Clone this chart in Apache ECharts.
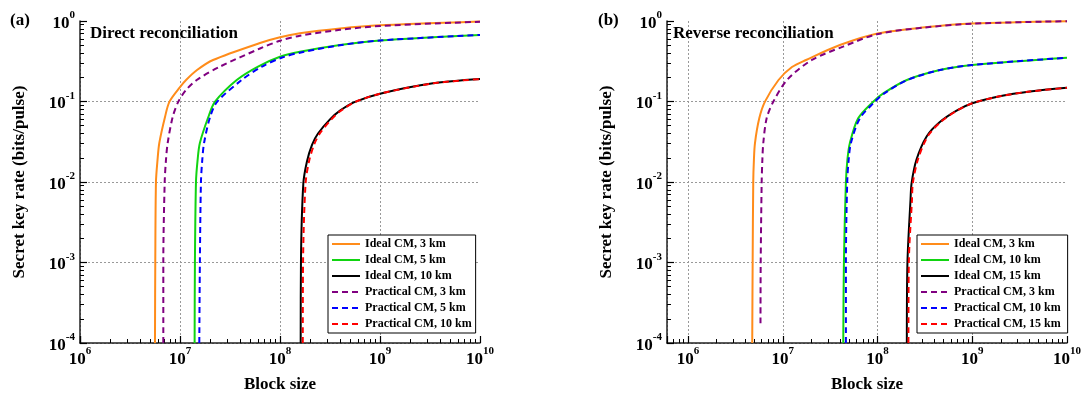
<!DOCTYPE html>
<html>
<head>
<meta charset="utf-8">
<script src="https://cdn.jsdelivr.net/npm/echarts@6/dist/echarts.min.js"></script>
<style>
  html, body { margin: 0; background: #fff; }
  #chart { width: 1085px; height: 399px; }
</style>
</head>
<body>
<div id="chart"></div>
<script>
const SERIF = '"Liberation Serif", "Times New Roman", serif';

// (a) direct reconciliation: [block size, key rate]
const aIdeal3 = [[5.62e6, 1e-4], [5.66e6, 1e-3], [5.75e6, 0.01], [5.96e6, 0.0188], [6.21e6, 0.0305], [7.08e6, 0.0642], [7.85e6, 0.0995], [1.0e7, 0.151], [1.15e7, 0.185], [1.48e7, 0.246], [2.14e7, 0.328], [6.31e7, 0.533], [1e8, 0.628], [1.58e8, 0.703], [3.98e8, 0.807], [1e9, 0.884], [1e10, 0.986]];
const aIdeal5 = [[1.40e7, 1e-4], [1.41e7, 1e-3], [1.445e7, 0.01], [1.50e7, 0.0188], [1.58e7, 0.0305], [1.92e7, 0.0642], [2.24e7, 0.0995], [3.69e7, 0.185], [6.03e7, 0.272], [1e8, 0.36], [1.58e8, 0.415], [3.98e8, 0.503], [1e9, 0.573], [1e10, 0.67]];
const aIdeal10 = [[1.61e8, 1e-4], [1.62e8, 1e-3], [1.71e8, 0.0095], [1.86e8, 0.018], [2.09e8, 0.029], [2.40e8, 0.040], [3.16e8, 0.060], [3.98e8, 0.077], [5.62e8, 0.099], [1e9, 0.125], [3.39e9, 0.168], [1e10, 0.19]];
const aPrac3 = [[6.81e6, 1e-4], [6.81e6, 1e-3], [7.03e6, 0.01], [7.24e6, 0.0188], [7.53e6, 0.0305], [8.45e6, 0.0642], [9.62e6, 0.0995], [1.15e7, 0.139], [1.47e7, 0.185], [2.51e7, 0.271], [6.31e7, 0.455], [1e8, 0.569], [1.58e8, 0.657], [3.98e8, 0.777], [1e9, 0.867], [1e10, 0.98]];
const aPrac5 = [[1.56e7, 1e-4], [1.58e7, 1e-3], [1.62e7, 0.01], [1.67e7, 0.0188], [1.74e7, 0.0305], [2.0e7, 0.0642], [2.36e7, 0.0995], [4.14e7, 0.185], [6.61e7, 0.272], [1.05e8, 0.352], [1.66e8, 0.41], [3.98e8, 0.50], [1e9, 0.573], [1e10, 0.67]];
const aPrac10 = [[1.69e8, 1e-4], [1.70e8, 1e-3], [1.80e8, 0.0095], [1.95e8, 0.018], [2.19e8, 0.029], [2.50e8, 0.040], [3.27e8, 0.060], [4.07e8, 0.077], [5.69e8, 0.099], [1e9, 0.125], [3.39e9, 0.168], [1e10, 0.19]];

// (b) reverse reconciliation
const bIdeal3 = [[4.76e6, 1e-4], [4.81e6, 1e-3], [4.88e6, 0.01], [4.96e6, 0.0188], [5.09e6, 0.0305], [5.65e6, 0.0618], [6.49e6, 0.0995], [9.02e6, 0.185], [1.25e7, 0.268], [1.76e7, 0.328], [4.01e7, 0.503], [1e8, 0.70], [3.16e8, 0.835], [1e9, 0.931], [1e10, 0.995]];
const bIdeal10 = [[4.35e7, 1e-4], [4.42e7, 1e-3], [4.64e7, 0.01], [4.81e7, 0.0188], [5.11e7, 0.0305], [6.25e7, 0.0618], [9.01e7, 0.0995], [1.15e8, 0.126], [2.04e8, 0.185], [4.55e8, 0.246], [1e9, 0.284], [1e10, 0.35]];
const bIdeal15 = [[2.04e8, 1e-4], [2.07e8, 1e-3], [2.23e8, 0.006], [2.29e8, 0.0097], [2.58e8, 0.019], [3.30e8, 0.0368], [4.55e8, 0.0555], [6.83e8, 0.077], [1e9, 0.095], [1.95e9, 0.116], [4.06e9, 0.133], [1e10, 0.148]];
const bPrac3 = [[5.82e6, 1.76e-4], [5.85e6, 1e-3], [5.99e6, 0.01], [6.09e6, 0.0188], [6.23e6, 0.0305], [6.76e6, 0.0618], [7.94e6, 0.0995], [1.13e7, 0.19], [2.03e7, 0.328], [4.32e7, 0.48], [1.01e8, 0.69], [3.16e8, 0.83], [1e9, 0.926], [1e10, 0.995]];
const bPrac10 = [[4.64e7, 1e-4], [4.64e7, 1e-3], [4.79e7, 0.01], [4.96e7, 0.0188], [5.24e7, 0.0305], [6.52e7, 0.0618], [9.39e7, 0.0995], [1.18e8, 0.126], [2.07e8, 0.185], [4.55e8, 0.246], [1e9, 0.284], [1e10, 0.35]];
const bPrac15 = [[2.12e8, 1e-4], [2.14e8, 1e-3], [2.31e8, 0.006], [2.36e8, 0.0097], [2.67e8, 0.019], [3.38e8, 0.0368], [4.63e8, 0.0555], [6.88e8, 0.077], [1e9, 0.095], [1.95e9, 0.116], [4.06e9, 0.133], [1e10, 0.148]];

const namesA = ['Ideal CM, 3 km', 'Ideal CM, 5 km', 'Ideal CM, 10 km', 'Practical CM, 3 km', 'Practical CM, 5 km', 'Practical CM, 10 km'];
// trailing space keeps panel (b) names apart from panel (a) in the legends
const namesB = ['Ideal CM, 3 km ', 'Ideal CM, 10 km ', 'Ideal CM, 15 km ', 'Practical CM, 3 km ', 'Practical CM, 10 km ', 'Practical CM, 15 km '];
const colors = ['#ff8c1a', '#11d411', '#000000', '#800080', '#0000ff', '#ff0000'];

const xMinA = 1e6;
const xMinB = 6e5;
const yMin = 1e-4;
const yMax = 1;
const xMax = 1e10;

function powLabel(v) {
    const e = Math.log10(v);
    const r = Math.round(e);
    if (Math.abs(e - r) > 1e-6) return '';
    return '{b|10}{s|' + r + '}';
}
function labelRich() {
    return {
        b: { fontFamily: SERIF, fontWeight: 'bold', fontSize: 17, color: '#000', lineHeight: 22, verticalAlign: 'bottom' },
        s: { fontFamily: SERIF, fontWeight: 'bold', fontSize: 11, color: '#000', lineHeight: 12, verticalAlign: 'top' }
    };
}
function gridLine() {
    return { show: true, showMaxLine: false, lineStyle: { color: '#999', type: [2, 2], width: 1 } };
}
function majorTick() {
    return { show: true, inside: true, length: 7, lineStyle: { color: '#000', width: 1.2 } };
}
// v6 splits each decade linearly, so 9 parts give the 2..9 marks
function minorTick() {
    return { show: true, splitNumber: 9, length: 4, lineStyle: { color: '#000', width: 1 } };
}
function nameStyle() {
    return { fontFamily: SERIF, fontWeight: 'bold', fontSize: 17, color: '#000' };
}

function mainX(gi, min) {
    return {
        type: 'log', gridIndex: gi, min: min, max: xMax,
        name: 'Block size', nameLocation: 'middle', nameGap: 33, nameTextStyle: nameStyle(),
        axisLine: { show: true, onZero: false, lineStyle: { color: '#222', width: 1.5 } },
        axisTick: majorTick(),
        minorTick: minorTick(),
        axisLabel: { margin: 3, formatter: powLabel, rich: labelRich() },
        splitLine: gridLine()
    };
}
function mainY(gi) {
    return {
        type: 'log', gridIndex: gi, min: yMin, max: yMax,
        name: 'Secret key rate (bits/pulse)', nameLocation: 'middle', nameGap: 52, nameTextStyle: nameStyle(),
        axisLine: { show: true, onZero: false, lineStyle: { color: '#222', width: 1.5 } },
        axisTick: majorTick(),
        minorTick: minorTick(),
        axisLabel: { margin: 5, formatter: powLabel, rich: labelRich() },
        splitLine: gridLine()
    };
}

function makeSeries(name, data, idx, color, dashed) {
    return {
        name: name, type: 'line', xAxisIndex: idx, yAxisIndex: idx, data: data,
        showSymbol: false, symbol: 'none', smooth: 0.3, clip: false,
        lineStyle: { color: color, width: 2, type: dashed ? [6, 4] : 'solid' },
        itemStyle: { color: color }
    };
}

const seriesA = [aIdeal3, aIdeal5, aIdeal10, aPrac3, aPrac5, aPrac10];
const seriesB = [bIdeal3, bIdeal10, bIdeal15, bPrac3, bPrac10, bPrac15];
const series = [];
seriesA.forEach((d, i) => series.push(makeSeries(namesA[i], d, 0, colors[i], i >= 3)));
seriesB.forEach((d, i) => series.push(makeSeries(namesB[i], d, 1, colors[i], i >= 3)));

function legendAt(left, names) {
    return {
        data: names, orient: 'vertical', left: left, top: 235,
        padding: [3, 4, 3, 3], itemGap: 4, itemWidth: 28, itemHeight: 12,
        backgroundColor: '#fff', borderColor: '#000', borderWidth: 1, borderRadius: 0,
        selectedMode: false,
        itemStyle: { opacity: 0 },
        textStyle: { fontFamily: SERIF, fontWeight: 'bold', fontSize: 12, color: '#000', lineHeight: 12 }
    };
}

const titleText = { fontFamily: SERIF, fontWeight: 'bold', fontSize: 17, color: '#000' };

const chart = echarts.init(document.getElementById('chart'));
chart.setOption({
    animation: false,
    title: [
        { text: '(a)', left: 10, top: 12, padding: 0, textStyle: titleText },
        { text: 'Direct reconciliation', left: 90, top: 25, padding: 0, textStyle: titleText },
        { text: '(b)', left: 598, top: 12, padding: 0, textStyle: titleText },
        { text: 'Reverse reconciliation', left: 673, top: 25, padding: 0, textStyle: titleText }
    ],
    grid: [
        { left: 80, right: 605, top: 21, bottom: 56 },
        { left: 667, right: 18, top: 21, bottom: 56 }
    ],
    xAxis: [mainX(0, xMinA), mainX(1, xMinB)],
    yAxis: [mainY(0), mainY(1)],
    legend: [legendAt(328, namesA), legendAt(917, namesB)],
    series: series
});
</script>
</body>
</html>
